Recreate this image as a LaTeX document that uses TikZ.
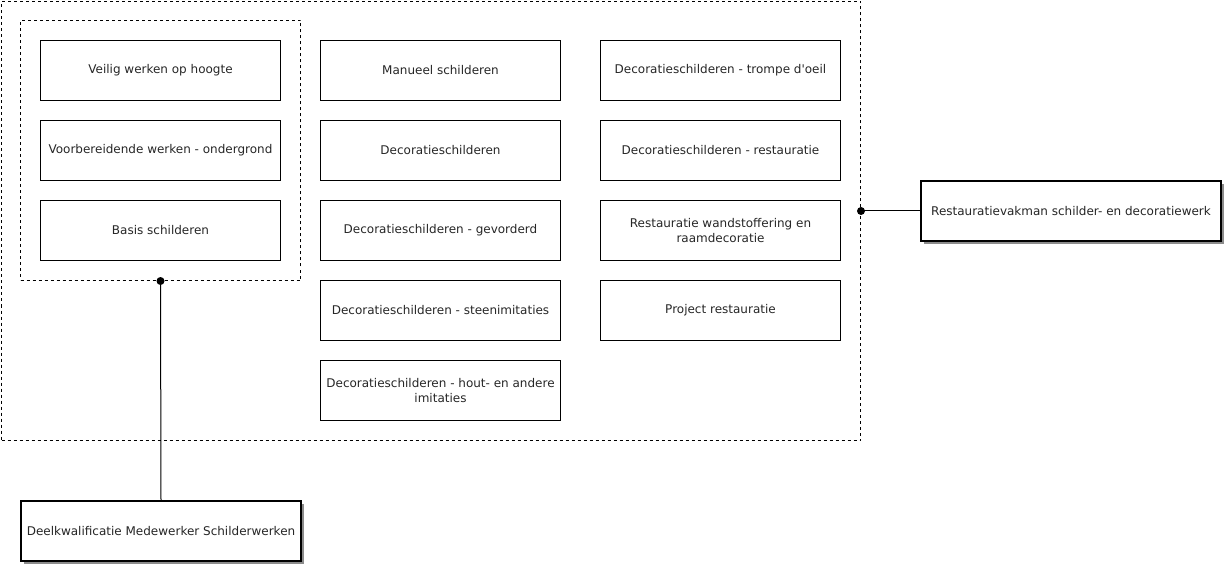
\documentclass[tikz,border=0pt]{standalone}
\usepackage{fontspec}
\newfontfamily\diagramfont{DejaVu Sans}
\usetikzlibrary{shadows}
\tikzset{
  module/.style={draw, line width=1pt, anchor=north west, inner sep=0pt,
    minimum width=240pt, minimum height=60pt, align=center,
    text=black!85, font=\diagramfont\fontsize{12}{14.5}\selectfont},
  kwalificatie/.style={module, line width=2pt, minimum width=300pt,
    drop shadow={shadow xshift=3pt, shadow yshift=-3pt, fill=black!45, opacity=1}, fill=white},
  groep/.style={draw, dash pattern=on 3pt off 3pt, line width=1pt, anchor=north west,
    inner sep=0pt},
  punt/.style={fill=black}
}
\begin{document}
\begin{tikzpicture}[x=1pt, y=-1pt]
  \useasboundingbox (0,0) rectangle (1228,569);
  % omkaderingen
  \node[groep, minimum width=859pt, minimum height=439pt] (restauratiegroep) at (1,1) {};
  \node[groep, minimum width=280pt, minimum height=260pt] (medewerkergroep) at (20,20) {};
  % kolom 1
  \node[module] (hoogte) at (40,40) {Veilig werken op hoogte};
  \node[module] (ondergrond) at (40,120) {Voorbereidende werken - ondergrond};
  \node[module] (basis) at (40,200) {Basis schilderen};
  % kolom 2
  \node[module] (manueel) at (320,40) {Manueel schilderen};
  \node[module] (decoratie) at (320,120) {Decoratieschilderen};
  \node[module] (gevorderd) at (320,200) {Decoratieschilderen - gevorderd};
  \node[module] (steen) at (320,280) {Decoratieschilderen - steenimitaties};
  \node[module] (hout) at (320,360) {Decoratieschilderen - hout- en andere\\imitaties};
  % kolom 3
  \node[module] (trompe) at (600,40) {Decoratieschilderen - trompe d'oeil};
  \node[module] (restauratie) at (600,120) {Decoratieschilderen - restauratie};
  \node[module] (wandstof) at (600,200) {Restauratie wandstoffering en\\raamdecoratie};
  \node[module] (project) at (600,280) {Project restauratie};
  % kwalificaties
  \node[kwalificatie] (vakman) at (920,180) {Restauratievakman schilder- en decoratiewerk};
  \node[kwalificatie, minimum width=280pt] (deelkwal) at (20,500) {Deelkwalificatie Medewerker Schilderwerken};
  % verbindingen
  \draw[line width=1pt] (medewerkergroep.south) -- (deelkwal.north);
  \fill[punt] (medewerkergroep.south) circle (4pt);
  \draw[line width=1pt] (restauratiegroep.east |- vakman.west) -- (vakman.west);
  \fill[punt] (restauratiegroep.east |- vakman.west) circle (4pt);
\end{tikzpicture}
\end{document}
